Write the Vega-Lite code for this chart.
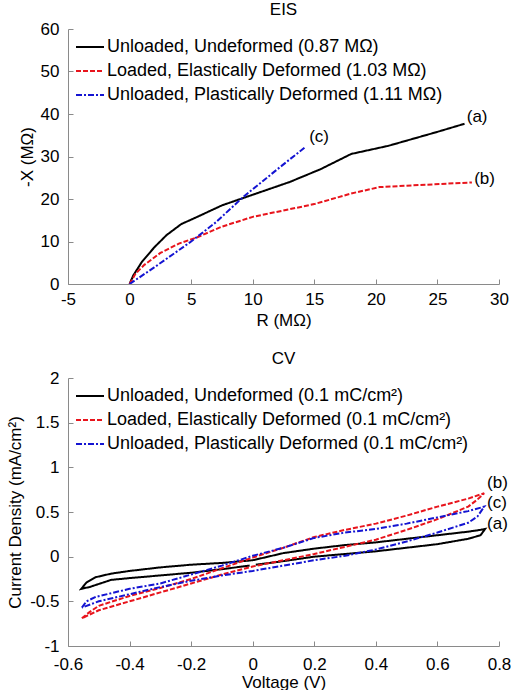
{
  "$schema": "https://vega.github.io/schema/vega-lite/v6.json",
  "padding": {"left": 6, "top": 1, "right": 0, "bottom": 0},
  "background": "white",
  "spacing": 94,
  "bounds": "flush",
  "config": {
    "font": "Liberation Sans",
    "view": {"stroke": null},
    "axis": {
      "grid": false,
      "domainColor": "#8a8a8a",
      "tickColor": "#8a8a8a",
      "tickSize": -5,
      "labelColor": "black",
      "titleColor": "black",
      "labelFontSize": 17,
      "titleFontSize": 17,
      "titleFontWeight": "normal",
      "format": "~r",
      "labelExpr": "replace(datum.label, '\u2212', '-')"
    },
    "axisX": {"labelPadding": 12, "titlePadding": 5, "labelFlush": false},
    "axisY": {"labelPadding": 14, "titlePadding": 4},
    "title": {"fontSize": 17, "fontWeight": "normal", "offset": 1},
    "legend": {
      "orient": "none",
      "legendX": 7,
      "legendY": 3,
      "title": null,
      "labelFontSize": 18,
      "labelLimit": 500,
      "symbolType": "stroke",
      "symbolSize": 784,
      "symbolStrokeWidth": 2,
      "labelOffset": 2,
      "rowPadding": -3
    }
  },
  "datasets": {
    "eis": [
      {"s": "a", "r": 0, "x": 0}, {"s": "a", "r": 0.3, "x": 2}, {"s": "a", "r": 1, "x": 5.2}, {"s": "a", "r": 2, "x": 8.6}, {"s": "a", "r": 3, "x": 11.5}, {"s": "a", "r": 4.2, "x": 14.1}, {"s": "a", "r": 5.5, "x": 15.8}, {"s": "a", "r": 7.5, "x": 18.5}, {"s": "a", "r": 10, "x": 21}, {"s": "a", "r": 13, "x": 24}, {"s": "a", "r": 15.5, "x": 27}, {"s": "a", "r": 18, "x": 30.6}, {"s": "a", "r": 21, "x": 32.5}, {"s": "a", "r": 25, "x": 35.8}, {"s": "a", "r": 27.2, "x": 37.7},
      {"s": "b", "r": 0, "x": 0}, {"s": "b", "r": 0.5, "x": 2.5}, {"s": "b", "r": 1.2, "x": 4.5}, {"s": "b", "r": 2.5, "x": 7.3}, {"s": "b", "r": 4, "x": 9.5}, {"s": "b", "r": 5.5, "x": 11}, {"s": "b", "r": 7.5, "x": 13.5}, {"s": "b", "r": 10, "x": 15.8}, {"s": "b", "r": 15, "x": 18.8}, {"s": "b", "r": 18, "x": 21.3}, {"s": "b", "r": 20.3, "x": 22.8}, {"s": "b", "r": 23, "x": 23.2}, {"s": "b", "r": 27.8, "x": 23.9},
      {"s": "c", "r": 0, "x": 0}, {"s": "c", "r": 2, "x": 3.9}, {"s": "c", "r": 5, "x": 10}, {"s": "c", "r": 7, "x": 14.5}, {"s": "c", "r": 9.2, "x": 20.4}, {"s": "c", "r": 12, "x": 27}, {"s": "c", "r": 14.3, "x": 32.3}
    ],
    "eislab": [
      {"t": "(a)", "r": 27.3, "x": 39.3},
      {"t": "(b)", "r": 27.9, "x": 24.8},
      {"t": "(c)", "r": 14.5, "x": 34.6}
    ],
    "cv": [
      {"s": "a", "o": 1, "v": 0.01, "i": -0.09}, {"s": "a", "o": 2, "v": 0.1, "i": -0.05}, {"s": "a", "o": 3, "v": 0.2, "i": 0.0}, {"s": "a", "o": 4, "v": 0.3, "i": 0.03}, {"s": "a", "o": 5, "v": 0.4, "i": 0.06}, {"s": "a", "o": 6, "v": 0.5, "i": 0.1}, {"s": "a", "o": 7, "v": 0.6, "i": 0.14}, {"s": "a", "o": 8, "v": 0.7, "i": 0.2}, {"s": "a", "o": 9, "v": 0.74, "i": 0.24}, {"s": "a", "o": 10, "v": 0.755, "i": 0.31},
      {"s": "a", "o": 11, "v": 0.74, "i": 0.3}, {"s": "a", "o": 12, "v": 0.7, "i": 0.28}, {"s": "a", "o": 13, "v": 0.6, "i": 0.24}, {"s": "a", "o": 14, "v": 0.5, "i": 0.2}, {"s": "a", "o": 15, "v": 0.4, "i": 0.16}, {"s": "a", "o": 16, "v": 0.3, "i": 0.13}, {"s": "a", "o": 17, "v": 0.2, "i": 0.09}, {"s": "a", "o": 18, "v": 0.1, "i": 0.04}, {"s": "a", "o": 19, "v": 0, "i": -0.04}, {"s": "a", "o": 20, "v": -0.1, "i": -0.07}, {"s": "a", "o": 21, "v": -0.2, "i": -0.09}, {"s": "a", "o": 22, "v": -0.3, "i": -0.12}, {"s": "a", "o": 23, "v": -0.4, "i": -0.16}, {"s": "a", "o": 24, "v": -0.46, "i": -0.19}, {"s": "a", "o": 25, "v": -0.51, "i": -0.23}, {"s": "a", "o": 26, "v": -0.54, "i": -0.29}, {"s": "a", "o": 27, "v": -0.557, "i": -0.36},
      {"s": "a", "o": 28, "v": -0.53, "i": -0.34}, {"s": "a", "o": 29, "v": -0.46, "i": -0.26}, {"s": "a", "o": 30, "v": -0.4, "i": -0.24}, {"s": "a", "o": 31, "v": -0.3, "i": -0.21}, {"s": "a", "o": 32, "v": -0.2, "i": -0.18}, {"s": "a", "o": 33, "v": -0.1, "i": -0.14}, {"s": "a", "o": 34, "v": -0.01, "i": -0.1},
      {"s": "b", "o": 1, "v": -0.555, "i": -0.69}, {"s": "b", "o": 2, "v": -0.53, "i": -0.62}, {"s": "b", "o": 3, "v": -0.5, "i": -0.55}, {"s": "b", "o": 4, "v": -0.4, "i": -0.44}, {"s": "b", "o": 5, "v": -0.3, "i": -0.35}, {"s": "b", "o": 6, "v": -0.2, "i": -0.25}, {"s": "b", "o": 7, "v": -0.1, "i": -0.13}, {"s": "b", "o": 8, "v": 0, "i": -0.01}, {"s": "b", "o": 9, "v": 0.1, "i": 0.1}, {"s": "b", "o": 10, "v": 0.2, "i": 0.22}, {"s": "b", "o": 11, "v": 0.3, "i": 0.3}, {"s": "b", "o": 12, "v": 0.4, "i": 0.37}, {"s": "b", "o": 13, "v": 0.5, "i": 0.46}, {"s": "b", "o": 14, "v": 0.6, "i": 0.56}, {"s": "b", "o": 15, "v": 0.7, "i": 0.65}, {"s": "b", "o": 16, "v": 0.752, "i": 0.71},
      {"s": "b", "o": 17, "v": 0.73, "i": 0.64}, {"s": "b", "o": 18, "v": 0.7, "i": 0.56}, {"s": "b", "o": 19, "v": 0.6, "i": 0.42}, {"s": "b", "o": 20, "v": 0.5, "i": 0.3}, {"s": "b", "o": 21, "v": 0.4, "i": 0.19}, {"s": "b", "o": 22, "v": 0.3, "i": 0.11}, {"s": "b", "o": 23, "v": 0.2, "i": 0.03}, {"s": "b", "o": 24, "v": 0.1, "i": -0.04}, {"s": "b", "o": 25, "v": 0, "i": -0.11}, {"s": "b", "o": 26, "v": -0.1, "i": -0.2}, {"s": "b", "o": 27, "v": -0.2, "i": -0.3}, {"s": "b", "o": 28, "v": -0.3, "i": -0.4}, {"s": "b", "o": 29, "v": -0.4, "i": -0.5}, {"s": "b", "o": 30, "v": -0.5, "i": -0.6}, {"s": "b", "o": 31, "v": -0.555, "i": -0.69},
      {"s": "c", "o": 1, "v": -0.555, "i": -0.57}, {"s": "c", "o": 2, "v": -0.54, "i": -0.5}, {"s": "c", "o": 3, "v": -0.51, "i": -0.45}, {"s": "c", "o": 4, "v": -0.4, "i": -0.36}, {"s": "c", "o": 5, "v": -0.3, "i": -0.3}, {"s": "c", "o": 6, "v": -0.2, "i": -0.2}, {"s": "c", "o": 7, "v": -0.1, "i": -0.1}, {"s": "c", "o": 8, "v": 0, "i": 0.01}, {"s": "c", "o": 9, "v": 0.1, "i": 0.1}, {"s": "c", "o": 10, "v": 0.2, "i": 0.21}, {"s": "c", "o": 11, "v": 0.3, "i": 0.27}, {"s": "c", "o": 12, "v": 0.4, "i": 0.31}, {"s": "c", "o": 13, "v": 0.5, "i": 0.37}, {"s": "c", "o": 14, "v": 0.6, "i": 0.44}, {"s": "c", "o": 15, "v": 0.7, "i": 0.51}, {"s": "c", "o": 16, "v": 0.752, "i": 0.56},
      {"s": "c", "o": 17, "v": 0.73, "i": 0.45}, {"s": "c", "o": 18, "v": 0.7, "i": 0.38}, {"s": "c", "o": 19, "v": 0.6, "i": 0.27}, {"s": "c", "o": 20, "v": 0.5, "i": 0.17}, {"s": "c", "o": 21, "v": 0.4, "i": 0.08}, {"s": "c", "o": 22, "v": 0.3, "i": 0.01}, {"s": "c", "o": 23, "v": 0.2, "i": -0.04}, {"s": "c", "o": 24, "v": 0.1, "i": -0.1}, {"s": "c", "o": 25, "v": 0, "i": -0.16}, {"s": "c", "o": 26, "v": -0.1, "i": -0.21}, {"s": "c", "o": 27, "v": -0.2, "i": -0.27}, {"s": "c", "o": 28, "v": -0.3, "i": -0.34}, {"s": "c", "o": 29, "v": -0.4, "i": -0.42}, {"s": "c", "o": 30, "v": -0.5, "i": -0.5}, {"s": "c", "o": 31, "v": -0.555, "i": -0.57}
    ],
    "cvlab": [
      {"t": "(b)", "v": 0.758, "i": 0.82},
      {"t": "(c)", "v": 0.758, "i": 0.6},
      {"t": "(a)", "v": 0.758, "i": 0.37}
    ]
  },
  "vconcat": [
    {
      "title": "EIS",
      "width": 431,
      "height": 255,
      "layer": [
        {
          "data": {"name": "eis"},
          "mark": {"type": "line", "strokeWidth": 2, "clip": true},
          "encoding": {
            "x": {"field": "r", "type": "quantitative", "scale": {"domain": [-5, 30], "nice": false}, "axis": {"title": "R (MΩ)", "values": [-5, 0, 5, 10, 15, 20, 25, 30]}},
            "y": {"field": "x", "type": "quantitative", "scale": {"domain": [0, 60], "nice": false}, "axis": {"title": "-X (MΩ)", "values": [0, 10, 20, 30, 40, 50, 60], "titlePadding": 4}},
            "color": {"field": "s", "type": "nominal", "scale": {"domain": ["a", "b", "c"], "range": ["#000000", "#e8141c", "#1414d2"]}, "legend": {"labelExpr": "datum.label == 'a' ? 'Unloaded, Undeformed (0.87 MΩ)' : datum.label == 'b' ? 'Loaded, Elastically Deformed (1.03 MΩ)' : 'Unloaded, Plastically Deformed (1.11 MΩ)'"}},
            "strokeDash": {"field": "s", "type": "nominal", "scale": {"domain": ["a", "b", "c"], "range": [[1, 0], [5, 2], [6, 2, 2, 2]]}, "legend": {"labelExpr": "datum.label == 'a' ? 'Unloaded, Undeformed (0.87 MΩ)' : datum.label == 'b' ? 'Loaded, Elastically Deformed (1.03 MΩ)' : 'Unloaded, Plastically Deformed (1.11 MΩ)'"}}
          }
        },
        {
          "data": {"name": "eislab"},
          "mark": {"type": "text", "align": "left", "baseline": "middle", "fontSize": 17, "dx": 1},
          "encoding": {
            "x": {"field": "r", "type": "quantitative"},
            "y": {"field": "x", "type": "quantitative"},
            "text": {"field": "t"}
          }
        }
      ]
    },
    {
      "title": "CV",
      "width": 431,
      "height": 268,
      "layer": [
        {
          "data": {"name": "cv"},
          "mark": {"type": "line", "strokeWidth": 2, "clip": true},
          "encoding": {
            "x": {"field": "v", "type": "quantitative", "scale": {"domain": [-0.6, 0.8], "nice": false}, "axis": {"title": "Voltage (V)", "values": [-0.6, -0.4, -0.2, 0, 0.2, 0.4, 0.6, 0.8], "labelPadding": 15, "titlePadding": 2}},
            "y": {"field": "i", "type": "quantitative", "scale": {"domain": [-1, 2], "nice": false}, "axis": {"title": "Current Density (mA/cm²)", "values": [-1, -0.5, 0, 0.5, 1, 1.5, 2], "titlePadding": 5}},
            "order": {"field": "o", "type": "quantitative"},
            "color": {"field": "s", "type": "nominal", "scale": {"domain": ["a", "b", "c"], "range": ["#000000", "#e8141c", "#1414d2"]}, "legend": {"labelExpr": "datum.label == 'a' ? 'Unloaded, Undeformed (0.1 mC/cm²)' : datum.label == 'b' ? 'Loaded, Elastically Deformed (0.1 mC/cm²)' : 'Unloaded, Plastically Deformed (0.1 mC/cm²)'"}},
            "strokeDash": {"field": "s", "type": "nominal", "scale": {"domain": ["a", "b", "c"], "range": [[1, 0], [5, 2], [6, 2, 2, 2]]}, "legend": {"labelExpr": "datum.label == 'a' ? 'Unloaded, Undeformed (0.1 mC/cm²)' : datum.label == 'b' ? 'Loaded, Elastically Deformed (0.1 mC/cm²)' : 'Unloaded, Plastically Deformed (0.1 mC/cm²)'"}}
          }
        },
        {
          "data": {"name": "cvlab"},
          "mark": {"type": "text", "align": "left", "baseline": "middle", "fontSize": 17, "dx": 1},
          "encoding": {
            "x": {"field": "v", "type": "quantitative"},
            "y": {"field": "i", "type": "quantitative"},
            "text": {"field": "t"}
          }
        }
      ]
    }
  ],
  "resolve": {"scale": {"color": "independent", "strokeDash": "independent"}, "legend": {"color": "independent", "strokeDash": "independent"}}
}
